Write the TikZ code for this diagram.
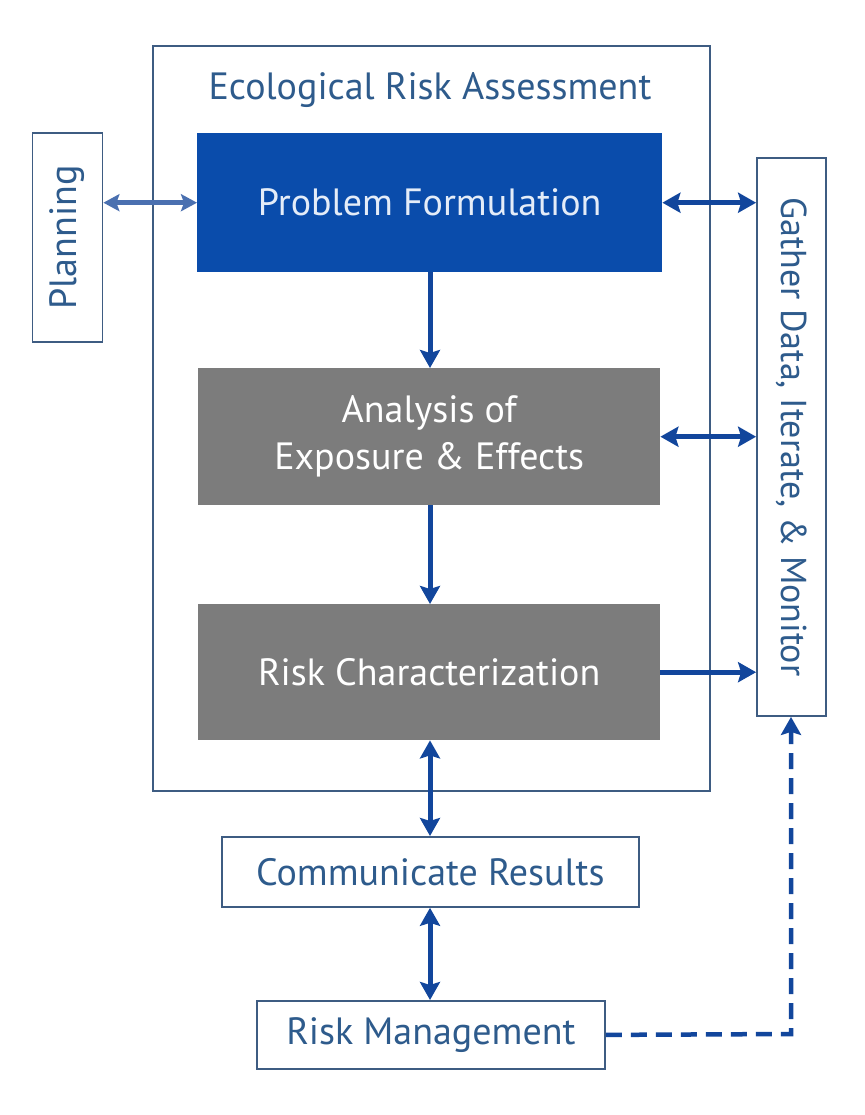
\documentclass[tikz,border=0pt]{standalone}
\usepackage{fontspec}
\setmainfont{PT Sans}
\usetikzlibrary{arrows.meta}
\definecolor{frame}{HTML}{3E5C82}
\definecolor{txt}{HTML}{2E5B8C}
\definecolor{pfblue}{HTML}{0A4CAB}
\definecolor{pftext}{HTML}{E4ECF8}
\definecolor{boxgray}{HTML}{7C7C7C}
\definecolor{arr}{HTML}{12469C}
\definecolor{arrlight}{HTML}{4A70B0}
\tikzset{
  tip/.tip={Stealth[length=18pt,width=20pt,inset=3pt]},
}
\begin{document}
\begin{tikzpicture}[x=1pt,y=-1pt,
  fs/.style={font=\fontsize{38}{47}\selectfont},
  lbl/.style={fs, text=txt},
  outline/.style={draw=frame, line width=1.8pt, fill=white, inner sep=0pt},
  conn/.style={draw=arr, line width=5pt, -tip},
  bconn/.style={draw=arr, line width=5pt, tip-tip}
]
\useasboundingbox[fill=white] (0,0) rectangle (864,1115);
% outer frame
\node[outline, minimum width=557pt, minimum height=745pt, anchor=north west] (era) at (152,45) {};
\node[lbl] (title) at (430,90) {Ecological Risk Assessment};
% inner boxes
\node[fill=pfblue, minimum width=465pt, minimum height=139pt, inner sep=0pt, anchor=north west,
  fs, text=pftext] (pf) at (197,133) {Problem Formulation};
\node[fill=boxgray, minimum width=462pt, minimum height=137pt, inner sep=0pt, anchor=north west,
  fs, text=white, align=center] (an) at (198,368) {Analysis of\\Exposure \& Effects};
\node[fill=boxgray, minimum width=462pt, minimum height=136pt, inner sep=0pt, anchor=north west,
  fs, text=white] (rc) at (198,604) {Risk Characterization};
% side boxes
\node[outline, lbl, minimum width=209pt, minimum height=70pt, rotate=90] (plan) at (67.5,237.5) {Planning};
\node[outline, lbl, font=\fontsize{36}{40}\selectfont, minimum width=558pt, minimum height=69pt, rotate=-90] (gather) at (791.5,437) {Gather Data, Iterate, \& Monitor};
% bottom boxes
\node[outline, lbl, minimum width=417pt, minimum height=70pt, anchor=north west] (comm) at (221,836) {Communicate Results};
\node[outline, lbl, minimum width=348pt, minimum height=68pt, anchor=north west] (rm) at (256,1000) {Risk Management};
% connectors
\draw[draw=arrlight, line width=4.5pt, {Stealth[length=16pt,width=17pt,inset=3pt]}-{Stealth[length=16pt,width=17pt,inset=3pt]}] (plan.south |- pf.west) -- (pf.west);
\draw[bconn] (pf.east) -- (gather.south |- pf.east);
\draw[bconn] (an.east) -- (gather.south |- an.east);
\draw[conn] (rc.east) -- (gather.south |- rc.east);
\draw[conn] (pf.south -| 430,0) -- (an.north -| 430,0);
\draw[conn] (an.south -| 430,0) -- (rc.north -| 430,0);
\draw[bconn] (rc.south -| 430,0) -- (comm.north -| 430,0);
\draw[bconn] (comm.south -| 430,0) -- (rm.north -| 430,0);
\coordinate (corner) at (791,1034);
\draw[conn, line width=4.5pt, dash pattern=on 16pt off 9pt] (rm.east) -- (corner) -- (gather.east -| corner);
\end{tikzpicture}
\end{document}
